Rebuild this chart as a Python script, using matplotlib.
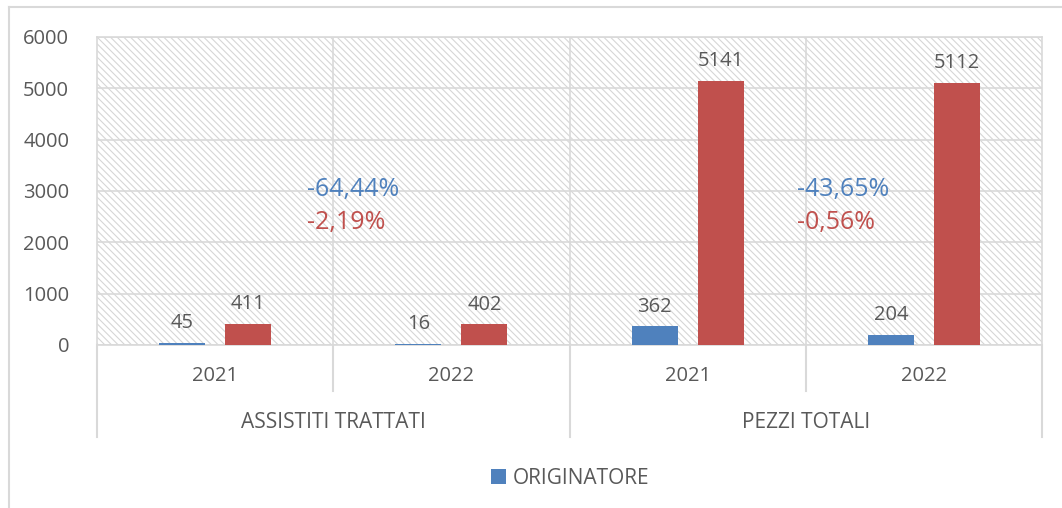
import numpy as np
import matplotlib.pyplot as plt
from matplotlib.patches import Rectangle
from matplotlib.lines import Line2D
import matplotlib.transforms as mtransforms

plt.rcParams['font.family'] = ['Open Sans', 'DejaVu Sans']
plt.rcParams['hatch.linewidth'] = 0.8

groups = ['ASSISTITI TRATTATI', 'PEZZI TOTALI']
years = ['2021', '2022', '2021', '2022']
originatore = [45, 16, 362, 204]
altro = [411, 402, 5141, 5112]
var_orig = ['-64,44%', '-43,65%']
var_altro = ['-2,19%', '-0,56%']

blue = '#4F81BD'
red = '#C0504D'
txt = '#595959'
grid = '#D9D9D9'
fs = 14.5

fig = plt.figure(figsize=(10.62, 5.08), dpi=100)
ax = fig.add_axes([97 / 1062, 1 - 345 / 508, 945 / 1062, 308 / 508])

# figure border (only top/left visible)
fig.add_artist(Line2D([9 / 1062, 9 / 1062], [0, 1 - 7 / 508], transform=fig.transFigure, color=grid, lw=1.5))
fig.add_artist(Line2D([9 / 1062, 1], [1 - 7 / 508, 1 - 7 / 508], transform=fig.transFigure, color=grid, lw=1.5))

x = np.arange(len(years)) + 0.5
w = 0.195
off = 0.14

# hatched background
ax.add_patch(Rectangle((0, 0), 1, 1, transform=ax.transAxes, facecolor='white',
                       edgecolor='#D6D6D6', hatch='\\\\\\\\\\', lw=0, zorder=0))

ax.set_xlim(0, 4)
ax.set_ylim(0, 6000)
ax.set_yticks(range(0, 7000, 1000))
ax.yaxis.grid(True, color=grid, lw=1.2, zorder=1)
ax.set_axisbelow(True)
for xv in range(1, 4):
    ax.axvline(xv, color=grid, lw=1.2, zorder=1)
for s in ax.spines.values():
    s.set_color(grid)
    s.set_linewidth(1.2)
ax.tick_params(axis='y', length=0, labelsize=fs, labelcolor=txt, pad=20)
ax.tick_params(axis='x', length=0, labelbottom=False)

b1 = ax.bar(x - off, originatore, w, color=blue, zorder=3, label='ORIGINATORE')
b2 = ax.bar(x + off, altro, w, color=red, zorder=3)
for bars, vals in [(b1, originatore), (b2, altro)]:
    for r, v in zip(bars, vals):
        ax.annotate(str(v), (r.get_x() + r.get_width() / 2, v), xytext=(0, 7),
                    textcoords='offset points', ha='center', va='bottom',
                    fontsize=fs, color=txt)

# variation labels
for i in range(2):
    ax.text(0.89 + 2.074 * i, 3020, var_orig[i], color=blue, fontsize=18, va='center', ha='left')
    ax.text(0.89 + 2.074 * i, 2380, var_altro[i], color=red, fontsize=18, va='center', ha='left')

# category axis below
tr = mtransforms.blended_transform_factory(ax.transData, fig.transFigure)
for xi, yl in zip(x, years):
    ax.text(xi, 1 - 376 / 508, yl, transform=tr, ha='center', va='center', fontsize=fs, color=txt)
for gi, g in enumerate(groups):
    ax.text(1 + 2 * gi, 1 - 422 / 508, g, transform=tr, ha='center', va='center', fontsize=15, color=txt)
for xv in [0, 2, 4]:
    ax.add_line(Line2D([xv, xv], [1 - 345 / 508, 1 - 437 / 508], transform=tr, color=grid, lw=1.5, clip_on=False))
for xv in [1, 3]:
    ax.add_line(Line2D([xv, xv], [1 - 345 / 508, 1 - 391 / 508], transform=tr, color=grid, lw=1.5, clip_on=False))

fig.legend(handles=[b1], loc='center', bbox_to_anchor=(570 / 1062, 1 - 478 / 508), frameon=False,
           fontsize=15, labelcolor=txt, handlelength=0.75, handleheight=0.75, handletextpad=0.3)

fig.savefig('out.png', dpi=100)
